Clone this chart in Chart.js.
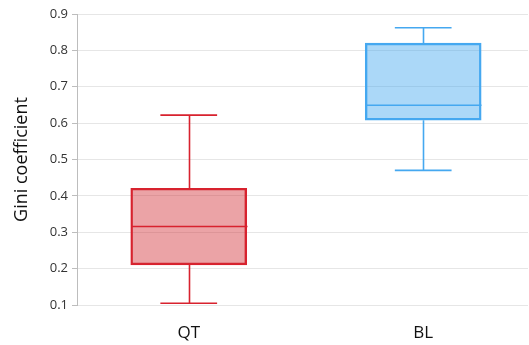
<!DOCTYPE html>
<html>
<head>
<meta charset="utf-8">
<script src="https://cdn.jsdelivr.net/npm/chart.js@4"></script>
<style>
  html, body { margin: 0; padding: 0; background: #fff; }
  #wrap { width: 529px; height: 345px; }
</style>
</head>
<body>
<div id="wrap"><canvas id="c" width="529" height="345"></canvas></div>
<script>
// Box-plot summary per group
const categories  = ['QT', 'BL'];
const whiskerLow  = [0.105, 0.47];
const q1          = [0.21, 0.608];
const median      = [0.316, 0.649];
const q3          = [0.421, 0.82];
const whiskerHigh = [0.622, 0.862];
const yTicks      = [0.1, 0.2, 0.3, 0.4, 0.5, 0.6, 0.7, 0.8, 0.9];

const strokeColors = ['#d8222e', '#45a8f0'];
const fillColors   = ['rgba(210,50,58,0.45)', 'rgba(69,168,240,0.45)'];

const FONT = '"Open Sans", "DejaVu Sans", sans-serif';
const CAP_HALF = 0.121; // half-width of whisker caps, in x units

// Whiskers and median lines drawn on top of the box bars
const boxExtras = {
  id: 'boxExtras',
  afterDatasetsDraw(chart) {
    const ctx = chart.ctx;
    const xs = chart.scales.x, ys = chart.scales.y;
    const meta = chart.getDatasetMeta(0);
    ctx.save();
    ctx.lineWidth = 1.6;
    categories.forEach((_, i) => {
      const bar = meta.data[i];
      const cx = Math.round(xs.getPixelForValue(i)) + 0.5;
      const half = bar.width / 2;
      const yLo = ys.getPixelForValue(whiskerLow[i]);
      const yQ1 = ys.getPixelForValue(q1[i]);
      const yMed = ys.getPixelForValue(median[i]);
      const yQ3 = ys.getPixelForValue(q3[i]);
      const yHi = ys.getPixelForValue(whiskerHigh[i]);
      const capL = xs.getPixelForValue(i - CAP_HALF);
      const capR = xs.getPixelForValue(i + CAP_HALF);
      ctx.strokeStyle = strokeColors[i];
      ctx.beginPath();
      // whisker stems
      ctx.moveTo(cx, yQ3); ctx.lineTo(cx, yHi);
      ctx.moveTo(cx, yQ1); ctx.lineTo(cx, yLo);
      // caps
      ctx.moveTo(capL, yHi); ctx.lineTo(capR, yHi);
      ctx.moveTo(capL, yLo); ctx.lineTo(capR, yLo);
      // median
      ctx.moveTo(cx - half, yMed); ctx.lineTo(cx + half, yMed);
      ctx.stroke();
    });
    ctx.restore();
  }
};

new Chart(document.getElementById('c'), {
  type: 'bar',
  data: {
    datasets: [{
      data: categories.map((_, i) => ({ x: i, y: [q1[i], q3[i]] })),
      backgroundColor: fillColors,
      borderColor: strokeColors,
      borderWidth: 1.8,
      borderSkipped: false,
      barThickness: 116
    }]
  },
  options: {
    responsive: false,
    animation: false,
    events: [],
    layout: { padding: { top: 14, right: 1, bottom: 0, left: 0 } },
    plugins: { legend: { display: false }, tooltip: { enabled: false } },
    scales: {
      x: {
        type: 'linear',
        offset: false,
        bounds: 'data',
        min: -0.4766,
        max: 1.447,
        afterBuildTicks: (scale) => { scale.ticks = categories.map((_, i) => ({ value: i })); },
        afterFit: (scale) => { scale.height = 40; },
        grid: { display: false, drawTicks: false, offset: false },
        border: { display: false },
        ticks: {
          callback: (v) => categories[v],
          color: '#111',
          padding: 18,
          maxRotation: 0,
          font: { family: FONT, size: 17 }
        }
      },
      y: {
        min: 0.1,
        max: 0.9,
        afterBuildTicks: (scale) => { scale.ticks = yTicks.map(v => ({ value: v })); },
        afterFit: (scale) => { scale.width = 77; },
        grid: { color: '#e6e6e6', lineWidth: 1, tickLength: 5, tickColor: '#bdbdbd' },
        border: { color: '#bdbdbd', width: 1 },
        ticks: {
          callback: (v) => v.toFixed(1),
          color: '#333',
          padding: 4,
          font: { family: FONT, size: 13 }
        },
        title: {
          display: true,
          text: 'Gini coefficient',
          color: '#111',
          padding: { top: 11, bottom: 0 },
          font: { family: FONT, size: 18 }
        }
      }
    }
  },
  plugins: [boxExtras]
});
</script>
</body>
</html>
